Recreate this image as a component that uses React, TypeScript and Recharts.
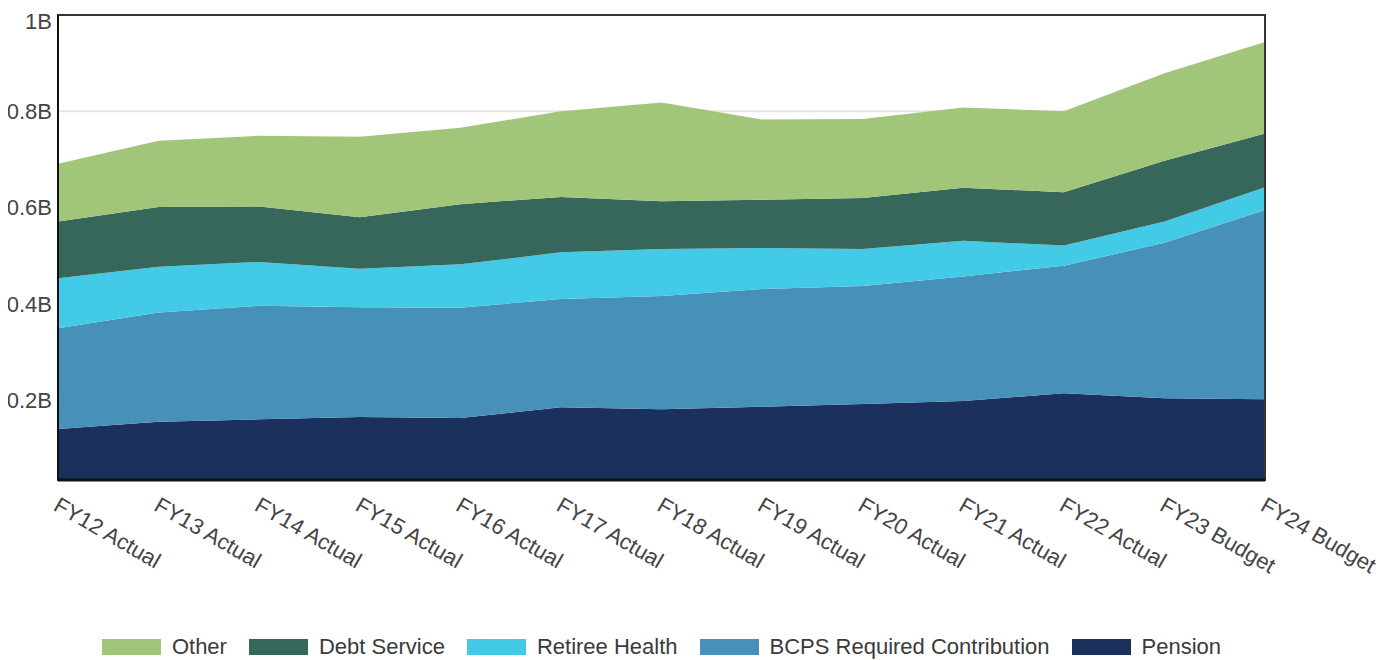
import React from "react";
import {
  Area,
  AreaChart,
  CartesianGrid,
  Legend,
  ReferenceArea,
  XAxis,
  YAxis,
} from "recharts";

// Spending by fiscal year, in millions of dollars
const years = [
  "FY12 Actual",
  "FY13 Actual",
  "FY14 Actual",
  "FY15 Actual",
  "FY16 Actual",
  "FY17 Actual",
  "FY18 Actual",
  "FY19 Actual",
  "FY20 Actual",
  "FY21 Actual",
  "FY22 Actual",
  "FY23 Budget",
  "FY24 Budget",
];

const pension = [140, 155, 160, 165, 163, 185, 181, 186, 192, 198, 214, 204, 202];
const bcpsContribution = [209, 227, 236, 228, 229, 225, 235, 245, 245, 259, 265, 323, 393];
const retireeHealth = [104, 95, 91, 80, 90, 97, 98, 85, 77, 74, 42, 44, 47];
const debtService = [118, 124, 115, 107, 125, 115, 99, 100, 106, 110, 111, 126, 112];
const other = [120, 138, 147, 167, 159, 178, 205, 167, 164, 167, 168, 182, 190];

const yTicks = [200, 400, 600, 800, 1000];
const Y_MIN = 34;
const Y_MAX = 1000;

const series = [
  { key: "pension", name: "Pension", color: "#1b305c" },
  { key: "bcps", name: "BCPS Required Contribution", color: "#4690b9" },
  { key: "retiree", name: "Retiree Health", color: "#43cae6" },
  { key: "debt", name: "Debt Service", color: "#37665a" },
  { key: "other", name: "Other", color: "#a2c679" },
];

const data = years.map((label, i) => ({
  label,
  pension: pension[i],
  bcps: bcpsContribution[i],
  retiree: retireeHealth[i],
  debt: debtService[i],
  other: other[i],
}));

const FONT = '"Liberation Sans", Arial, Helvetica, sans-serif';
const FONT_SIZE = 22;

const formatBillions = (v: number) => `${v / 1000}B`;

function RotatedTick(props: any) {
  const { x, y, payload } = props;
  const ax = x + 2;
  const ay = y + 8;
  return (
    <text
      x={ax}
      y={ay}
      dy="0.71em"
      transform={`rotate(30, ${ax}, ${ay})`}
      textAnchor="start"
      fill="#444"
      fontSize={FONT_SIZE}
      fontFamily={FONT}
    >
      {payload.value}
    </text>
  );
}

function LegendContent() {
  // legend lists the stack from top to bottom
  const items = [...series].reverse();
  return (
    <div
      style={{
        display: "flex",
        justifyContent: "center",
        alignItems: "center",
        gap: 22,
        fontFamily: FONT,
        fontSize: FONT_SIZE,
        color: "#3a3a3a",
        lineHeight: "24px",
      }}
    >
      {items.map((s) => (
        <div key={s.key} style={{ display: "flex", alignItems: "center" }}>
          <span
            style={{
              display: "inline-block",
              width: 59,
              height: 16,
              background: s.color,
              marginRight: 11,
            }}
          />
          <span>{s.name}</span>
        </div>
      ))}
    </div>
  );
}

export default function App() {
  return (
    <div style={{ width: 1375, height: 652, background: "#fff" }}>
      <AreaChart
        width={1375}
        height={652}
        data={data}
        margin={{ top: 7, right: 118, bottom: 56, left: 0 }}
      >
        <CartesianGrid vertical={false} stroke="#e6e6e6" strokeWidth={2} />
        <XAxis
          dataKey="label"
          interval={0}
          height={100}
          tickLine={false}
          axisLine={{ stroke: "#111", strokeWidth: 3 }}
          tick={<RotatedTick />}
        />
        <YAxis
          width={50}
          domain={[Y_MIN, Y_MAX]}
          ticks={yTicks}
          allowDataOverflow
          tickFormatter={formatBillions}
          tickLine={false}
          tickSize={0}
          tickMargin={6}
          axisLine={{ stroke: "#111", strokeWidth: 2 }}
          tick={{ fill: "#444", fontSize: FONT_SIZE, fontFamily: FONT }}
        />
        {series.map((s) => (
          <Area
            key={s.key}
            type="linear"
            dataKey={s.key}
            name={s.name}
            stackId="1"
            stroke="none"
            fill={s.color}
            fillOpacity={1}
            isAnimationActive={false}
          />
        ))}
        {/* frame around the plot area */}
        <ReferenceArea
          x1={years[0]}
          x2={years[years.length - 1]}
          y1={Y_MIN}
          y2={Y_MAX}
          fill="none"
          fillOpacity={0}
          stroke="#333"
          strokeWidth={2}
          ifOverflow="visible"
        />
        {/* legend is centred under the plot area */}
        <Legend
          content={<LegendContent />}
          wrapperStyle={{ left: 0, width: 1307, top: 627 }}
        />
      </AreaChart>
    </div>
  );
}
